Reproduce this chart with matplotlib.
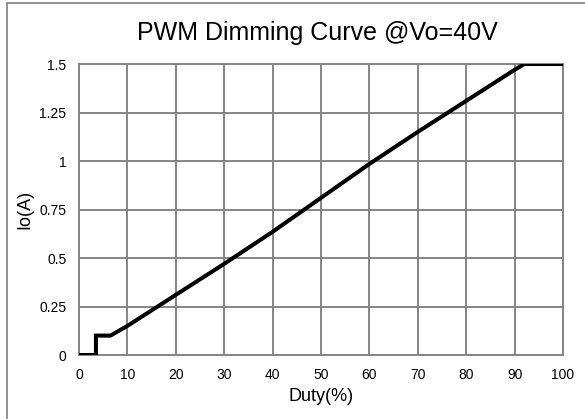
import matplotlib
matplotlib.use("Agg")
import matplotlib.pyplot as plt
from matplotlib.patches import Rectangle

# Dimming curve
duty = [0, 3.5, 3.5, 6.5, 10, 20, 30, 40, 50, 60, 70, 80, 90, 92, 100]
current = [0, 0, 0.1, 0.1, 0.15, 0.31, 0.47, 0.635, 0.81, 0.985, 1.15, 1.31, 1.47, 1.5, 1.5]

x_ticks = list(range(0, 101, 10))
y_ticks = [0, 0.25, 0.5, 0.75, 1, 1.25, 1.5]
y_tick_labels = ["0", "0.25", "0.5", "0.75", "1", "1.25", "1.5"]

plt.rcParams["font.family"] = ["Liberation Sans", "DejaVu Sans"]

fig = plt.figure(figsize=(5.85, 4.19), dpi=100)
# outer chart-area frame (runs off the right/bottom edge in the original)
fig.patches.append(Rectangle((7 / 585, -0.05), 1.2, 1 - 3 / 419 + 0.05,
                             transform=fig.transFigure, fill=False,
                             edgecolor="#7f7f7f", linewidth=1.2))

ax = fig.add_axes([79 / 585, 1 - 355 / 419, (563 - 79) / 585, (355 - 64) / 419])
ax.plot(duty, current, color="black", linewidth=2.9, solid_joinstyle="miter", zorder=3)

ax.set_xlim(0, 100)
ax.set_ylim(0, 1.5)
ax.set_xticks(x_ticks)
ax.set_yticks(y_ticks)
ax.set_yticklabels(y_tick_labels)
ax.grid(True, color="#858585", linewidth=1.4)
ax.tick_params(length=0, labelsize=10, colors="black")
ax.tick_params(axis="x", pad=9)
ax.tick_params(axis="y", pad=9)
for side in ax.spines.values():
    side.set_color("#858585")
    side.set_linewidth(1.4)

ax.set_xlabel("Duty(%)", fontsize=13, labelpad=5)
ax.set_ylabel("Io(A)", fontsize=13, labelpad=4)
fig.text(317 / 585, 1 - 40 / 419, "PWM Dimming Curve @Vo=40V", fontsize=18,
         ha="center", va="baseline")

fig.savefig("out.png", dpi=100)
